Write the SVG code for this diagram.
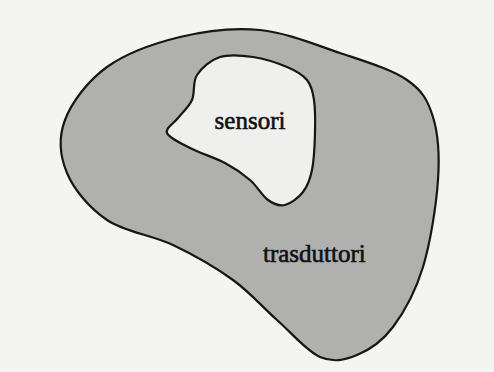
<svg xmlns="http://www.w3.org/2000/svg" width="494" height="372" viewBox="0 0 494 372">
  <style>
    .blob { stroke: #161616; stroke-width: 2.2; stroke-linejoin: round; }
    .outer { fill: #b0b0ae; }
    .inner { fill: #efefed; }
    .label { font-family: "Liberation Serif", "Times New Roman", serif; font-size: 25px; fill: #111111; stroke: #111111; stroke-width: 0.6; }
  </style>
  <rect x="0" y="0" width="494" height="372" fill="#f4f4f2"/>
  <g id="trasduttori">
    <path class="blob outer" d="M 260,30 C 286.7,32.7 315.5,44.7 340,53 C 364.5,61.3 391.5,69.3 407,80 C 422.5,90.7 427.8,100.3 433,117 C 438.2,133.7 439.7,155 438,180 C 436.3,205 430.5,242.5 423,267 C 415.5,291.5 404,312.3 393,327 C 382,341.7 369.2,350 357,355 C 344.8,360 333.3,362.8 320,357 C 306.7,351.2 291.5,332.8 277,320 C 262.5,307.2 250.3,292.5 233,280 C 215.7,267.5 194,255 173,245 C 152,235 124.7,232 107,220 C 89.3,208 74,189.7 67,173 C 60,156.3 58.3,137.7 65,120 C 71.7,102.3 87.8,80.8 107,67 C 126.2,53.2 154.5,43.2 180,37 C 205.5,30.8 233.3,27.3 260,30 Z"/>
    <text class="label" x="263" y="262">trasduttori</text>
  </g>
  <g id="sensori">
    <path class="blob inner" d="M 220,57 C 229.3,54 241.8,55.3 253,57 C 264.2,58.7 278,63.2 287,67 C 296,70.8 302.5,74.5 307,80 C 311.5,85.5 312.7,91.2 314,100 C 315.3,108.8 315.3,121.3 315,133 C 314.7,144.7 314,160.2 312,170 C 310,179.8 307.5,186.2 303,192 C 298.5,197.8 290.8,203.7 285,205 C 279.2,206.3 273.8,204.2 268,200 C 262.2,195.8 257.2,186.2 250,180 C 242.8,173.8 235,168.3 225,163 C 215,157.7 199.7,153 190,148 C 180.3,143 169,138 167,133 C 165,128 173.8,123.5 178,118 C 182.2,112.5 188.8,107.2 192,100 C 195.2,92.8 192.3,82.2 197,75 C 201.7,67.8 210.7,60 220,57 Z"/>
    <text class="label" x="250" y="129" text-anchor="middle">sensori</text>
  </g>
  <g id="connectors"/>
</svg>
